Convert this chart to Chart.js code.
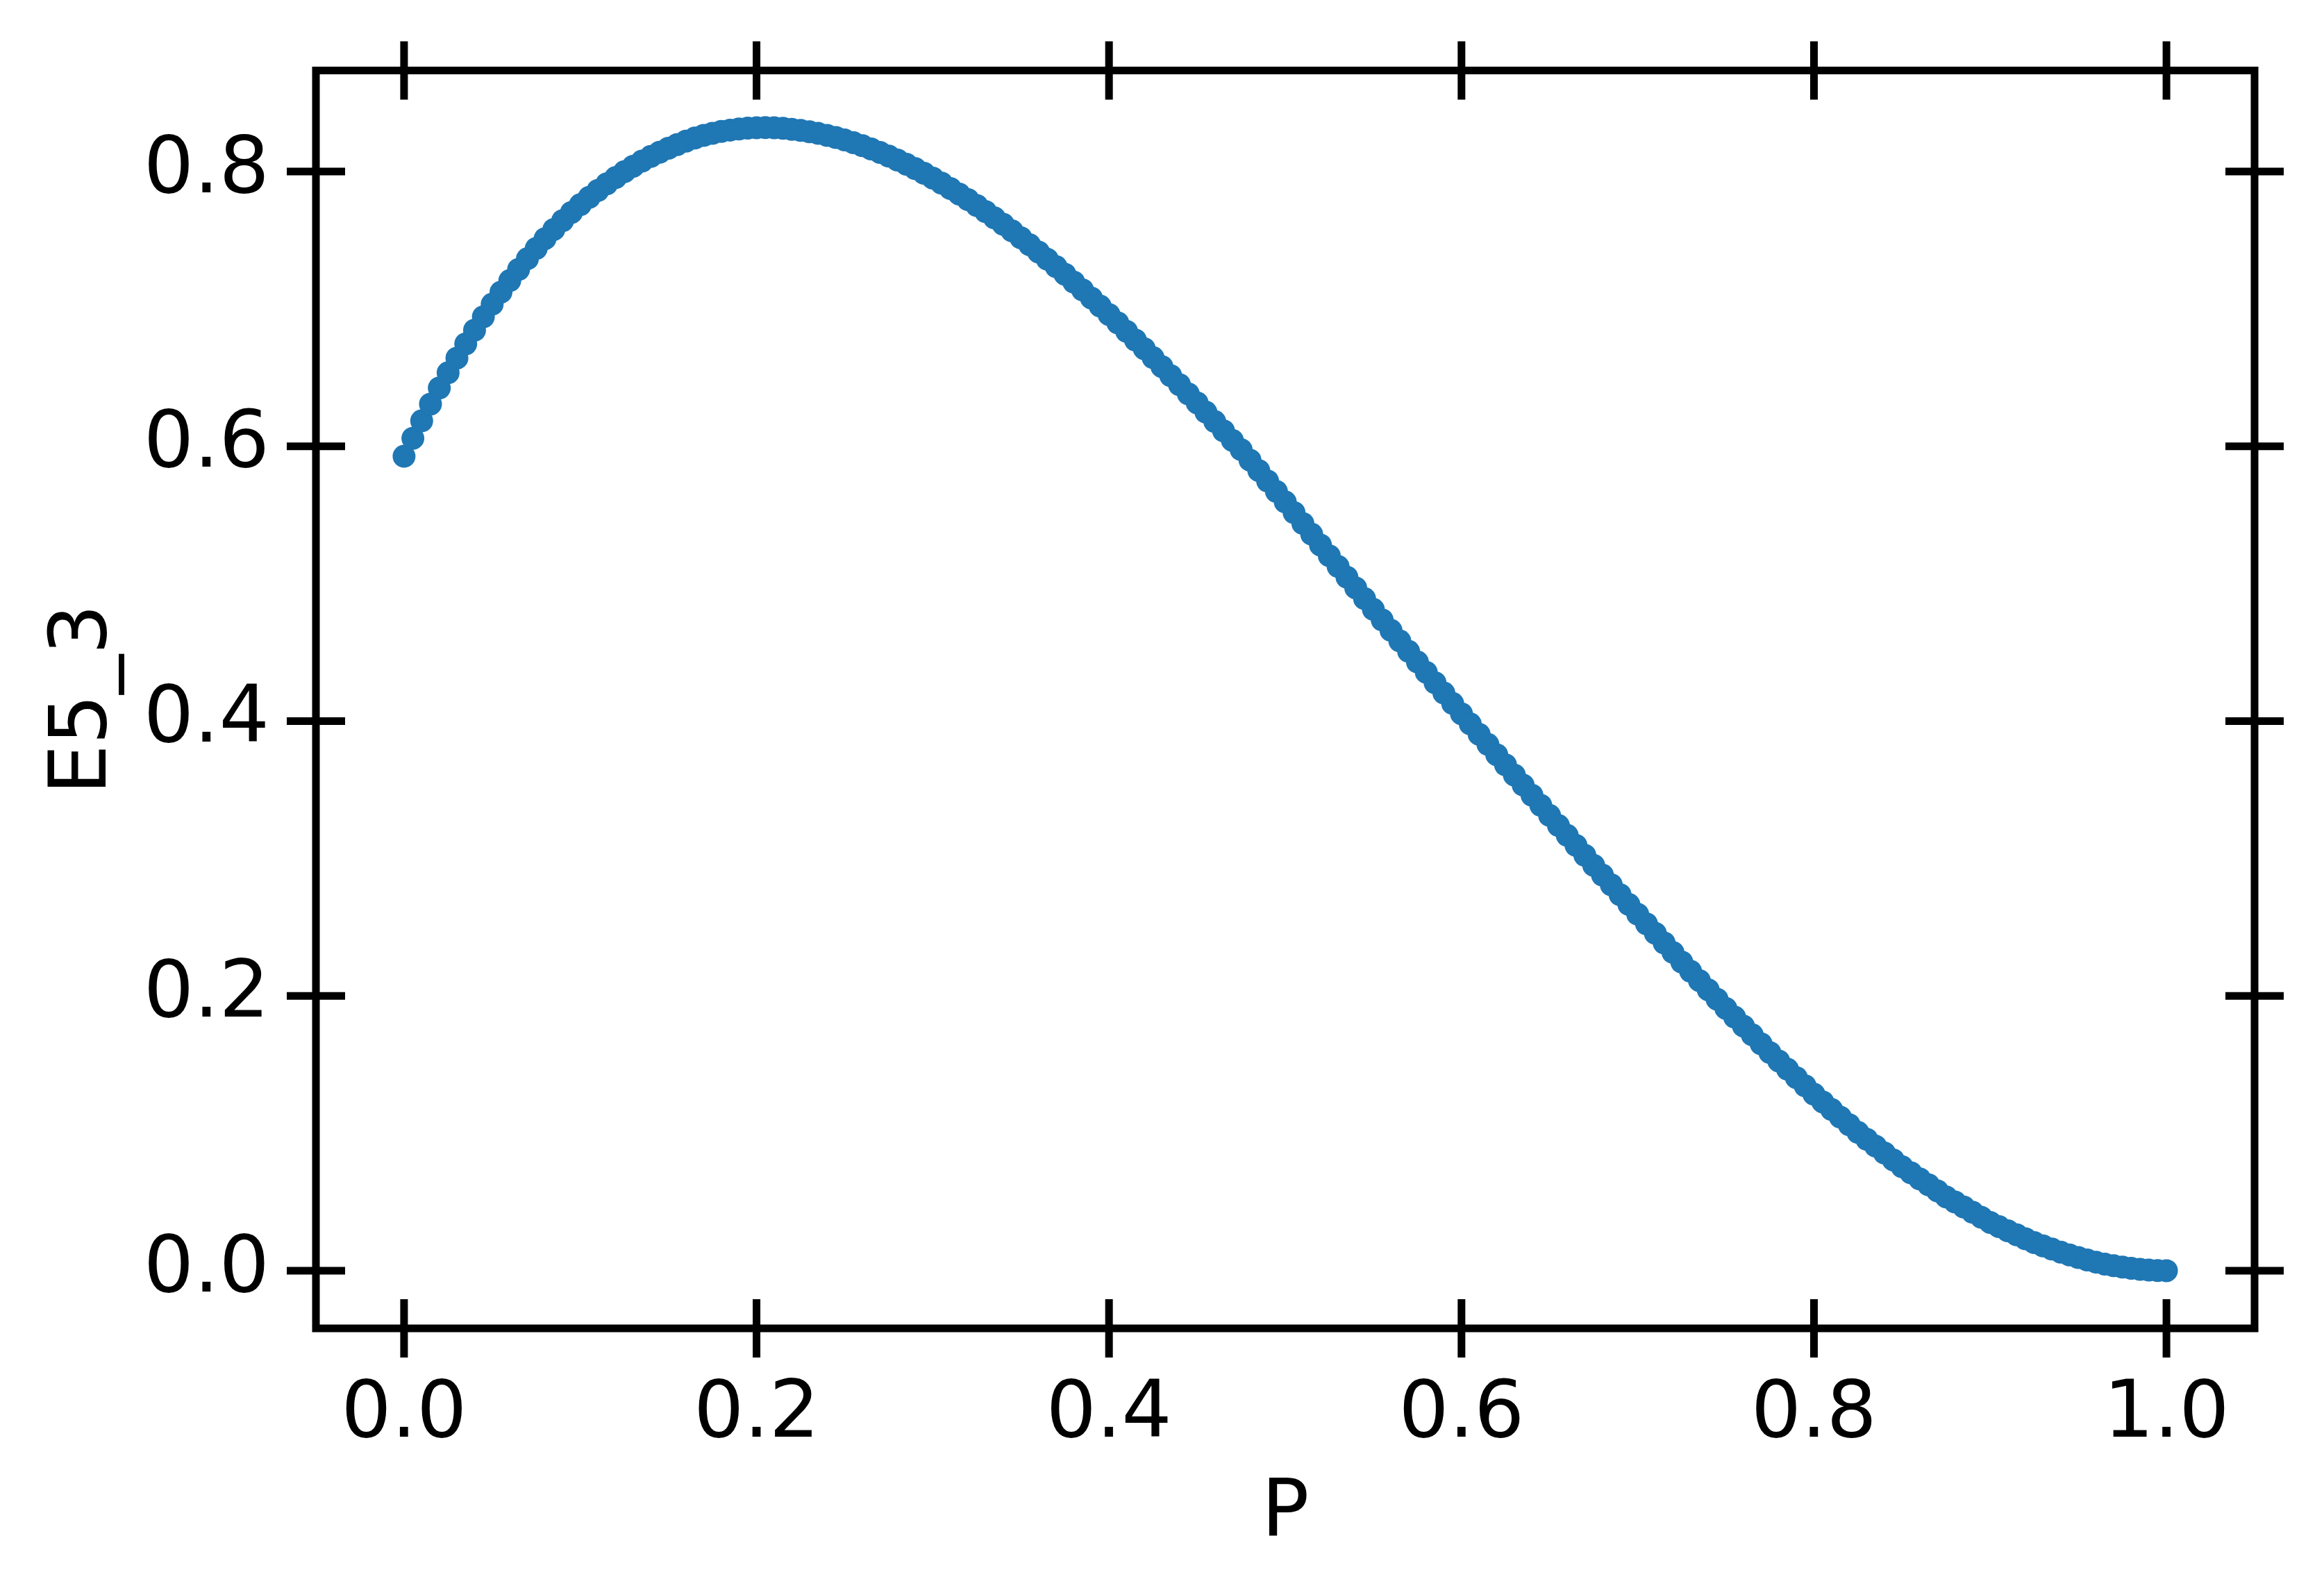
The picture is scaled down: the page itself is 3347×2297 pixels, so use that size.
<!DOCTYPE html>
<html>
<head>
<meta charset="utf-8">
<script src="https://cdn.jsdelivr.net/npm/chart.js@4.4.0/dist/chart.umd.min.js"></script>
<style>
html,body{margin:0;padding:0;background:#ffffff;}
#wrap{width:3347px;height:2297px;position:relative;}
</style>
</head>
<body>
<div id="wrap"><canvas id="c" width="3347" height="2297"></canvas></div>
<script>
// P values (x)
const pValues = [
0.000,0.005,0.010,0.015,0.020,0.025,0.030,0.035,0.040,0.045,
0.050,0.055,0.060,0.065,0.070,0.075,0.080,0.085,0.090,0.095,
0.100,0.105,0.110,0.115,0.120,0.125,0.130,0.135,0.140,0.145,
0.150,0.155,0.160,0.165,0.170,0.175,0.180,0.185,0.190,0.195,
0.200,0.205,0.210,0.215,0.220,0.225,0.230,0.235,0.240,0.245,
0.250,0.255,0.260,0.265,0.270,0.275,0.280,0.285,0.290,0.295,
0.300,0.305,0.310,0.315,0.320,0.325,0.330,0.335,0.340,0.345,
0.350,0.355,0.360,0.365,0.370,0.375,0.380,0.385,0.390,0.395,
0.400,0.405,0.410,0.415,0.420,0.425,0.430,0.435,0.440,0.445,
0.450,0.455,0.460,0.465,0.470,0.475,0.480,0.485,0.490,0.495,
0.500,0.505,0.510,0.515,0.520,0.525,0.530,0.535,0.540,0.545,
0.550,0.555,0.560,0.565,0.570,0.575,0.580,0.585,0.590,0.595,
0.600,0.605,0.610,0.615,0.620,0.625,0.630,0.635,0.640,0.645,
0.650,0.655,0.660,0.665,0.670,0.675,0.680,0.685,0.690,0.695,
0.700,0.705,0.710,0.715,0.720,0.725,0.730,0.735,0.740,0.745,
0.750,0.755,0.760,0.765,0.770,0.775,0.780,0.785,0.790,0.795,
0.800,0.805,0.810,0.815,0.820,0.825,0.830,0.835,0.840,0.845,
0.850,0.855,0.860,0.865,0.870,0.875,0.880,0.885,0.890,0.895,
0.900,0.905,0.910,0.915,0.920,0.925,0.930,0.935,0.940,0.945,
0.950,0.955,0.960,0.965,0.970,0.975,0.980,0.985,0.990,0.995,
1.000];

// E5_3 values (y)
const e53Values = [
0.5927,0.6058,0.6185,0.6307,0.6424,0.6535,0.6642,0.6745,0.6845,0.6942,
0.7034,0.7122,0.7206,0.7287,0.7365,0.7440,0.7511,0.7578,0.7642,0.7702,
0.7758,0.7811,0.7862,0.7910,0.7955,0.7998,0.8038,0.8075,0.8109,0.8140,
0.8169,0.8196,0.8221,0.8243,0.8262,0.8278,0.8291,0.8301,0.8309,0.8315,
0.8318,0.8319,0.8318,0.8314,0.8307,0.8299,0.8289,0.8277,0.8263,0.8247,
0.8229,0.8209,0.8188,0.8164,0.8139,0.8112,0.8083,0.8053,0.8021,0.7987,
0.7952,0.7915,0.7876,0.7836,0.7795,0.7752,0.7708,0.7662,0.7615,0.7567,
0.7517,0.7466,0.7414,0.7361,0.7307,0.7252,0.7195,0.7138,0.7079,0.7020,
0.6959,0.6898,0.6836,0.6773,0.6710,0.6645,0.6580,0.6514,0.6448,0.6381,
0.6316,0.6248,0.6180,0.6112,0.6043,0.5975,0.5899,0.5823,0.5747,0.5671,
0.5595,0.5517,0.5438,0.5360,0.5281,0.5203,0.5125,0.5047,0.4969,0.4891,
0.4813,0.4736,0.4660,0.4583,0.4507,0.4430,0.4355,0.4279,0.4204,0.4128,
0.4053,0.3979,0.3904,0.3830,0.3755,0.3681,0.3607,0.3534,0.3460,0.3387,
0.3313,0.3240,0.3168,0.3095,0.3023,0.2950,0.2879,0.2808,0.2736,0.2665,
0.2594,0.2524,0.2455,0.2385,0.2316,0.2246,0.2179,0.2111,0.2044,0.1976,
0.1909,0.1845,0.1780,0.1716,0.1651,0.1587,0.1526,0.1466,0.1405,0.1345,
0.1284,0.1228,0.1173,0.1117,0.1062,0.1006,0.0956,0.0906,0.0856,0.0806,
0.0756,0.0712,0.0668,0.0625,0.0581,0.0537,0.0500,0.0463,0.0425,0.0388,
0.0351,0.0320,0.0290,0.0261,0.0232,0.0204,0.0180,0.0157,0.0135,0.0114,
0.0095,0.0078,0.0062,0.0048,0.0036,0.0026,0.0017,0.0010,0.0005,0.0001,
0.0000];

const xTicks = [0.0, 0.2, 0.4, 0.6, 0.8, 1.0];
const xTickLabels = ['0.0', '0.2', '0.4', '0.6', '0.8', '1.0'];
const yTicks = [0.0, 0.2, 0.4, 0.6, 0.8];
const yTickLabels = ['0.0', '0.2', '0.4', '0.6', '0.8'];
const xTitle = 'P';
const yTitle = 'E5_3';

const FONT = 'DejaVu Sans';
const FS = 114;

const framePlugin = {
  id: 'frame',
  afterDatasetsDraw(chart) {
    const {ctx, chartArea, scales} = chart;
    const {left, right, top, bottom} = chartArea;
    const half = 42;
    ctx.save();
    ctx.strokeStyle = '#000000';
    ctx.lineWidth = 11;
    ctx.lineJoin = 'miter';
    ctx.strokeRect(left, top, right - left, bottom - top);
    ctx.lineCap = 'butt';
    ctx.beginPath();
    xTicks.forEach(v => {
      const px = scales.x.getPixelForValue(v);
      ctx.moveTo(px, bottom - half); ctx.lineTo(px, bottom + half);
      ctx.moveTo(px, top - half); ctx.lineTo(px, top + half);
    });
    yTicks.forEach(v => {
      const py = scales.y.getPixelForValue(v);
      ctx.moveTo(left - half, py); ctx.lineTo(left + half, py);
      ctx.moveTo(right - half, py); ctx.lineTo(right + half, py);
    });
    ctx.stroke();
    ctx.restore();
  }
};

Chart.defaults.font.family = FONT;

new Chart(document.getElementById('c').getContext('2d'), {
  type: 'scatter',
  data: {
    datasets: [{
      data: pValues.map((p, i) => ({x: p, y: e53Values[i]})),
      backgroundColor: '#1f77b4',
      borderColor: '#1f77b4',
      borderWidth: 0,
      pointRadius: 16.5,
      pointHoverRadius: 16.5
    }]
  },
  options: {
    responsive: false,
    animation: false,
    devicePixelRatio: 1,
    layout: {padding: {left: 0, right: 100, top: 101.5, bottom: 0}},
    plugins: {legend: {display: false}, tooltip: {enabled: false}},
    scales: {
      x: {
        type: 'linear',
        min: -0.05, max: 1.05,
        grid: {display: false},
        border: {display: false},
        afterBuildTicks: s => { s.ticks = xTicks.map(v => ({value: v})); },
        afterFit: s => { s.height = 384; s.paddingLeft = 0; s.paddingRight = 0; },
        ticks: {
          font: {family: FONT, size: FS}, color: '#000000',
          padding: 50, autoSkip: false, maxRotation: 0, minRotation: 0,
          callback: (v, i) => xTickLabels[i]
        },
        title: {
          display: true, text: xTitle, color: '#000000',
          font: {family: FONT, size: FS},
          padding: {top: 0, bottom: 47}
        }
      },
      y: {
        type: 'linear',
        min: -0.042, max: 0.8735,
        grid: {display: false},
        border: {display: false},
        afterBuildTicks: s => { s.ticks = yTicks.map(v => ({value: v})); },
        afterFit: s => { s.width = 455; s.paddingTop = 0; s.paddingBottom = 0; },
        ticks: {
          font: {family: FONT, size: FS}, color: '#000000',
          padding: 59, autoSkip: false,
          callback: (v, i) => yTickLabels[i]
        },
        title: {
          display: true, text: yTitle, color: '#000000',
          font: {family: FONT, size: FS},
          padding: {top: 54, bottom: 0}
        }
      }
    }
  },
  plugins: [framePlugin]
});
</script>
</body>
</html>
